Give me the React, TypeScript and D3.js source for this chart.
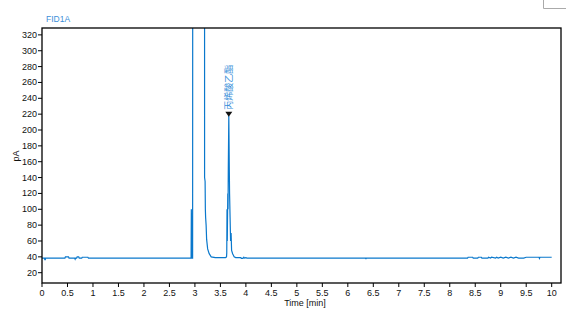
import React from "react";
import * as d3 from "d3";

const times = [0, 0.05, 0.055, 0.065, 0.07, 0.45, 0.46, 0.52, 0.53, 0.64, 0.65, 0.66, 0.68, 0.69, 0.72, 0.73, 0.78, 0.79, 0.9, 0.91,
  2.9, 2.925, 2.93, 2.935, 2.94, 2.955, 2.965, 3.185, 3.19, 3.2, 3.205, 3.21, 3.22, 3.23, 3.25, 3.28, 3.32, 3.4,
  3.6, 3.62, 3.625, 3.63, 3.635, 3.645, 3.65, 3.655, 3.665, 3.675, 3.68, 3.69, 3.7, 3.71, 3.72, 3.74, 3.77, 3.8,
  3.9, 3.91, 3.94, 3.96, 3.97, 4.0, 4.02, 4.1, 4.11, 6.35, 6.355, 6.36, 8.35, 8.36, 8.45, 8.46, 8.55, 8.56, 8.62, 8.63,
  8.75, 8.76, 8.8, 8.82, 8.9, 8.92, 8.95, 9.0, 9.05, 9.1, 9.15, 9.2, 9.25, 9.3, 9.35, 9.45, 9.5, 9.75, 9.76, 9.77, 10.0];
const signal = [38.5, 38.5, 36.5, 36.5, 38.5, 38.5, 40, 40, 38.5, 38.5, 37, 38.5, 38.5, 40, 40, 38.5, 38.5, 39.5, 39.5, 38.5,
  38.5, 38.5, 100, 60, 38.5, 38.5, 2000, 2000, 140, 135, 100, 90, 80, 62, 50, 44, 40, 39,
  39, 40, 45, 100, 60, 120, 100, 150, 218, 150, 120, 90, 60, 70, 48, 44, 40, 39,
  39, 38, 38, 39.5, 38.5, 39, 38.5, 38.5, 38.5, 38.5, 37, 38.5, 38.5, 39.5, 39.5, 38.5, 38.5, 39.5, 39.5, 38.5,
  38.5, 39.5, 38.5, 39.5, 38.5, 39.5, 38.5, 39.5, 38.5, 39.5, 38.5, 39.5, 38.5, 39.5, 38.5, 38.5, 39.5, 39.5, 38, 39.5, 39.5];

const xTicks = [0, 0.5, 1, 1.5, 2, 2.5, 3, 3.5, 4, 4.5, 5, 5.5, 6, 6.5, 7, 7.5, 8, 8.5, 9, 9.5, 10];
const yTicks = [20, 40, 60, 80, 100, 120, 140, 160, 180, 200, 220, 240, 260, 280, 300, 320];
const peakTime = [3.665];
const peakValue = [218];
const peakLabel = ["丙烯酸乙酯"];

export default function App() {
  const left = 42, right = 561, top = 28, bottom = 283;
  const x = d3.scaleLinear().domain([0, 10]).range([42, 551.7]);
  const y = d3.scaleLinear().domain([20, 240]).range([272.7, 98.3]);
  const pts: [number, number][] = times.map((t, i) => [t, signal[i]]);
  const line = d3.line<[number, number]>().x(d => x(d[0])).y(d => y(d[1]));
  const font = "Liberation Sans, Arial, sans-serif";
  const blue = "#0a78cc";
  return (
    <svg width={574} height={315} style={{ position: "absolute", left: 0, top: 0 }}>
      <rect width={574} height={315} fill="#fff" />
      <path d="M543.5,0 V8.5 H566" fill="none" stroke="#aaa" strokeWidth={1} />
      <text x={46} y={22} fontFamily={font} fontSize={8.5} fill="#3b8fd9">FID1A</text>
      <defs>
        <clipPath id="clip"><rect x={left} y={top} width={right - left} height={bottom - top} /></clipPath>
      </defs>
      <path d={line(pts) || ""} fill="none" stroke={blue} strokeWidth={1.2} clipPath="url(#clip)" />
      <rect x={left} y={top} width={right - left} height={bottom - top} fill="none" stroke="#000" strokeWidth={1.3} />
      {yTicks.map(v => (
        <g key={v}>
          <line x1={left - 4} x2={left} y1={y(v)} y2={y(v)} stroke="#000" />
          <text x={left - 5} y={y(v) + 3} textAnchor="end" fontFamily={font} fontSize={9} fill="#111">{v}</text>
        </g>
      ))}
      {xTicks.map(v => (
        <g key={v}>
          <line x1={x(v)} x2={x(v)} y1={bottom} y2={bottom + 4} stroke="#000" />
          <text x={x(v)} y={bottom + 13} textAnchor="middle" fontFamily={font} fontSize={9} fill="#111">{v}</text>
        </g>
      ))}
      <text x={305} y={306} textAnchor="middle" fontFamily={font} fontSize={9} fill="#111">Time [min]</text>
      <text transform={`translate(19,156) rotate(-90)`} textAnchor="middle" fontFamily={font} fontSize={9} fill="#111">pA</text>
      {peakTime.map((t, i) => (
        <g key={i}>
          <path d={`M${x(t) - 3.5},${y(peakValue[i]) - 4} h7 l-3.5,5 z`} fill="#111" />
          <text transform={`translate(${x(t) + 3.2},${y(peakValue[i]) - 6}) rotate(-90)`} fontFamily="Noto Sans CJK SC, sans-serif" fontSize={9} fill="#3b8fd9">{peakLabel[i]}</text>
        </g>
      ))}
    </svg>
  );
}
